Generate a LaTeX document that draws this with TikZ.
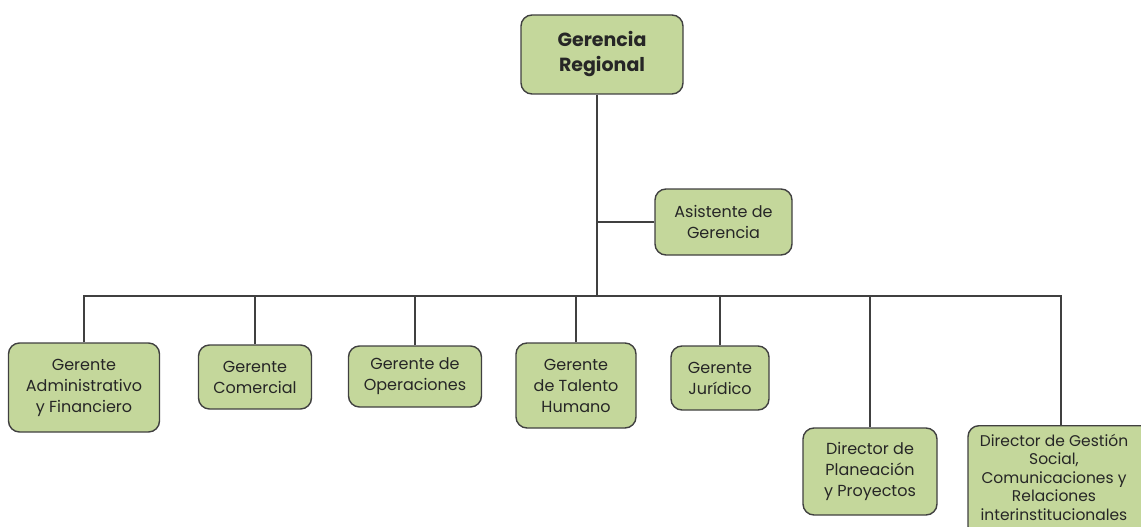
\documentclass[tikz,border=0pt]{standalone}
\usepackage{fontspec}
\setmainfont{Poppins}
\definecolor{boxfill}{HTML}{C4D79B}
\definecolor{boxline}{HTML}{404040}
\definecolor{txt}{HTML}{262626}
\begin{document}
\begin{tikzpicture}[x=1pt,y=-1pt,
  orgbox/.style={draw=boxline,line width=1.4pt,fill=boxfill,rounded corners=11pt,
    align=center,text=txt,inner sep=0pt,
    font=\fontsize{16}{21}\selectfont},
  link/.style={draw=boxline,line width=1.3pt}]
\useasboundingbox (0,0) rectangle (1141,527);
\clip (0,0) rectangle (1141,527);
\node[orgbox,minimum width=162pt,minimum height=79pt,font=\bfseries\fontsize{19}{25}\selectfont] (top) at (602,54.5) {Gerencia\\Regional};
\node[orgbox,minimum width=137pt,minimum height=66pt] (asist) at (723.5,222) {Asistente de\\Gerencia};
\node[orgbox,minimum width=151pt,minimum height=89pt] (adm) at (84,387.5) {Gerente\\Administrativo\\y Financiero};
\node[orgbox,minimum width=113pt,minimum height=64pt] (com) at (255,377) {Gerente\\Comercial};
\node[orgbox,minimum width=133pt,minimum height=61pt] (ope) at (415,376.5) {Gerente de\\Operaciones};
\node[orgbox,minimum width=120pt,minimum height=85pt] (tal) at (576,385.5) {Gerente\\de Talento\\Humano};
\node[orgbox,minimum width=98pt,minimum height=64pt] (jur) at (720,378) {Gerente\\Jurídico};
\node[orgbox,minimum width=134pt,minimum height=87pt] (pla) at (870,471.5) {Director de\\Planeación\\y Proyectos};
\node[orgbox,minimum width=186pt,minimum height=112pt,anchor=north,font=\fontsize{15.5}{18.5}\selectfont] (ges) at (1061,425) {};
\node[align=center,text=txt,inner sep=0pt,anchor=north,font=\fontsize{15.5}{18.5}\selectfont] (gestxt) at (1054,434) {Director de Gestión\\Social,\\Comunicaciones y\\Relaciones\\interinstitucionales};
\coordinate (bus) at (597,296);
\draw[link] (top.south -| bus) -- (bus);
\draw[link] (asist.west) -- (asist.west -| bus);
\draw[link] (adm.north) -- (adm.north |- bus) -- (ges.north |- bus) -- (ges.north);
\draw[link] (com.north) -- (com.north |- bus);
\draw[link] (ope.north) -- (ope.north |- bus);
\draw[link] (tal.north) -- (tal.north |- bus);
\draw[link] (jur.north) -- (jur.north |- bus);
\draw[link] (pla.north) -- (pla.north |- bus);
\end{tikzpicture}
\end{document}
